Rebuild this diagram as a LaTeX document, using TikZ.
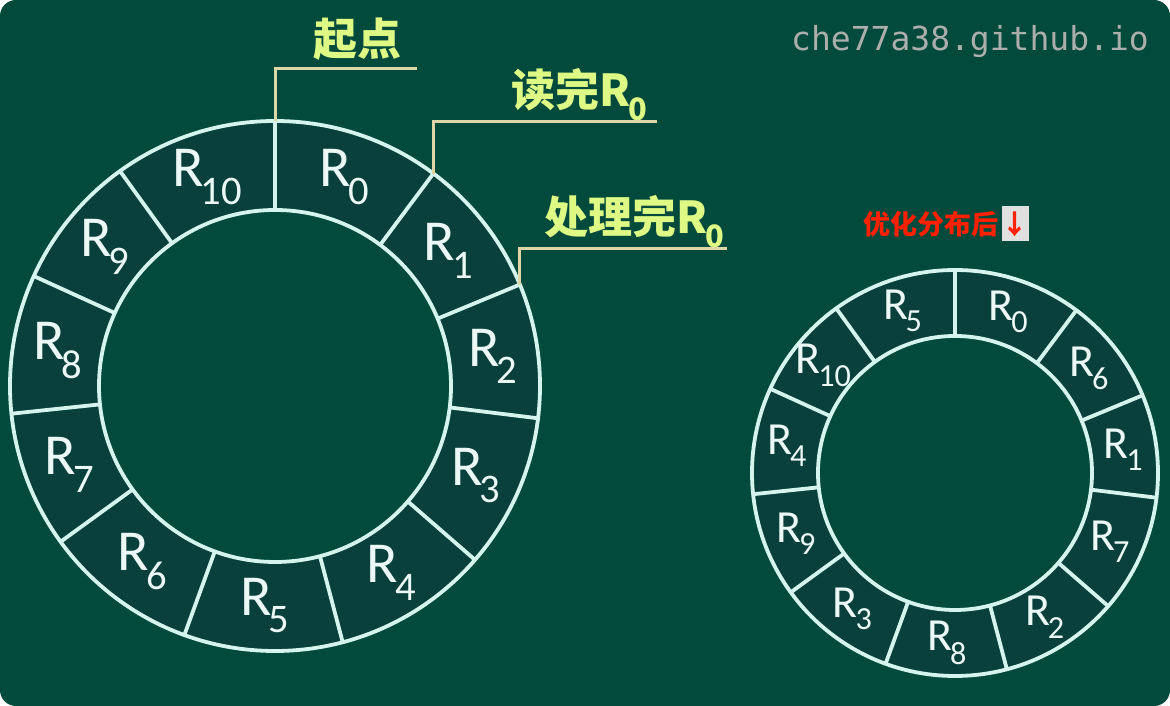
\documentclass[tikz,border=0pt]{standalone}
\usepackage{fontspec}
\setmainfont{Carlito}
\newfontfamily\cjk{Noto Sans CJK SC}
\newfontfamily\wmfont{DejaVu Sans Mono}
\usetikzlibrary{calc,positioning}
\definecolor{board}{RGB}{2,74,60}
\definecolor{ringbg}{RGB}{9,64,59}
\definecolor{chalk}{RGB}{214,244,238}
\definecolor{chalktext}{RGB}{236,248,246}
\definecolor{notecol}{RGB}{222,250,132}
\definecolor{leadcol}{RGB}{222,214,166}
\definecolor{optred}{RGB}{255,32,0}
\definecolor{wmgray}{RGB}{172,174,172}
\newcommand{\regname}[1]{R\kern-.05em\textsubscript{#1}}
\tikzset{
  ring/.style={draw=chalk, line width=3.8pt},
  regbig/.style={text=chalktext, inner sep=0pt, font=\fontsize{58}{60}\selectfont},
  regsmall/.style={text=chalktext, inner sep=0pt, font=\fontsize{46}{48}\selectfont},
  notelabel/.style={text=notecol, inner sep=0pt, font=\cjk\bfseries\fontsize{44}{46}\selectfont},
  lead/.style={draw=leadcol, line width=3pt},
}
\begin{document}
\begin{tikzpicture}[x=1pt,y=1pt]
\useasboundingbox (0,0) rectangle (1170,706);
\fill[white] (0,0) rectangle (1170,706);
\fill[board, rounded corners=16pt] (0,0) rectangle (1170,706);
\coordinate (cL) at (275,320);
\coordinate (cR) at (955,233);
% left ring
\fill[ringbg, even odd rule] (cL) circle (265pt) (cL) circle (176pt);
\draw[ring] (cL) circle (265pt) (cL) circle (176pt);
\foreach \a in {90,53.3,22.5,-7,-41,-75.2,-110,-144,-174,-204.5,-234.2}
  \draw[ring] ($(cL)+(\a:176pt)$) -- ($(cL)+(\a:265pt)$);
\foreach \a/\b/\k in {90/53.3/0, 53.3/22.5/1, 22.5/-7/2, -7/-41/3, -41/-75.2/4,
    -75.2/-110/5, -110/-144/6, -144/-174/7, -174/-204.5/8, -204.5/-234.2/9, -234.2/-270/10}
  \node[regbig] (l\k) at ($(cL)+({(\a+\b)/2}:220pt)$) {\regname{\k}};
% right ring
\fill[ringbg, even odd rule] (cR) circle (203pt) (cR) circle (137pt);
\draw[ring] (cR) circle (203pt) (cR) circle (137pt);
\foreach \a in {90,53.3,22.5,-7,-41,-75.2,-110,-144,-174,-204.5,-234.2}
  \draw[ring] ($(cR)+(\a:137pt)$) -- ($(cR)+(\a:203pt)$);
\foreach \a/\b/\k in {90/53.3/0, 53.3/22.5/6, 22.5/-7/1, -7/-41/7, -41/-75.2/2,
    -75.2/-110/8, -110/-144/3, -144/-174/9, -174/-204.5/4, -204.5/-234.2/10, -234.2/-270/5}
  \node[regsmall] (r\k) at ($(cR)+({(\a+\b)/2}:170pt)$) {\regname{\k}};
% notes
\node[notelabel] (start) at (357,667) {起点};
\node[notelabel] (readdone) at (580,611) {读完\regname{0}};
\node[notelabel] (procdone) at (635,484) {处理完\regname{0}};
\coordinate (startPt) at ($(cL)+(90:265pt)$);
\coordinate (readPt) at ($(cL)+(53.3:265pt)$);
\coordinate (procPt) at ($(cL)+(22.5:265pt)$);
\coordinate (startEnd) at (417,637);
\coordinate (readEnd) at (657,584);
\coordinate (procEnd) at (727,457);
\draw[lead] (startPt) |- (startEnd);
\draw[lead] (readPt) |- (readEnd);
\draw[lead] (procPt) |- (procEnd);
% watermark and caption
\node[text=wmgray, font=\wmfont\fontsize{33}{36}\selectfont] (wm) at (970,664) {che77a38.github.io};
\node[text=optred, inner sep=0pt, font=\cjk\bfseries\fontsize{27}{30}\selectfont] (opt) at (931,482) {优化分布后};
\node[fill={rgb,255:red,224;green,224;blue,224}, text=optred, inner sep=0pt, minimum width=25pt, minimum height=35pt,
  font=\cjk\bfseries\fontsize{27}{30}\selectfont, right=3pt of opt] (optarrow) {↓};
\end{tikzpicture}
\end{document}
